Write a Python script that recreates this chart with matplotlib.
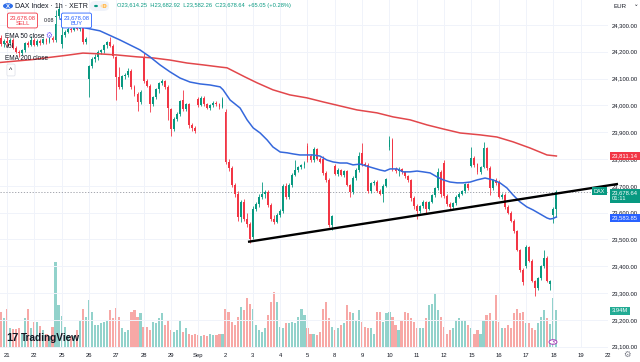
import numpy as np
import matplotlib.pyplot as plt
from matplotlib.patches import Circle, FancyBboxPatch

plt.rcParams['font.family'] = ['Liberation Sans', 'DejaVu Sans']

# DAX Index, 1h bars (XETR), last two bars of 20 Aug -> 18 Sep
open_ = [
    24250, 24230,
    24240, 24232, 24245, 24215, 24200, 24195, 24205, 24232, 24225,
    24242, 24226, 24240, 24232, 24246, 24236, 24250, 24242, 24335,
    24228, 24262, 24275, 24286, 24280, 24292, 24285, 24288, 24238,
    24100, 24145, 24172, 24180, 24198, 24205, 24225, 24236, 24222,
    24180, 24105, 24068, 24108, 24112, 24130, 24068, 24042, 24012,
    24175, 24090, 24074, 24004, 24030, 24060, 24082, 24090, 24068,
    23985, 23912, 23948, 23968, 24020, 23985, 24005, 23925, 23915,
    24022, 24002, 24028, 24004, 23990, 24000, 24010, 24004, 23994,
    23975, 23790, 23765, 23702, 23668, 23585, 23640, 23578, 23556,
    23510, 23615, 23632, 23660, 23668, 23678, 23628, 23575, 23566,
    23592, 23606, 23700, 23660, 23702, 23742, 23760, 23770, 23776,
    23850, 23812, 23796, 23838, 23800, 23800, 23746, 23722, 23552,
    23772, 23745, 23758, 23740, 23755, 23702, 23675, 23730, 23760,
    23822, 23782, 23778, 23680, 23710, 23716, 23682, 23670, 23700,
    23845, 23872, 23762, 23755, 23762, 23750, 23736, 23720, 23655,
    23625, 23605, 23625, 23640, 23615, 23640, 23665, 23690, 23752,
    23785, 23662, 23632, 23620, 23635, 23660, 23670, 23680, 23705,
    23775, 23805, 23780, 23750, 23770, 23840, 23765, 23690, 23720,
    23715, 23660, 23666, 23620, 23600, 23570, 23530, 23460, 23385,
    23400, 23470, 23420, 23345, 23320, 23355, 23400, 23432, 23335,
    23590, 23614.25,
]
high = [
    24262, 24248,
    24256, 24250, 24250, 24222, 24208, 24212, 24238, 24240, 24258,
    24250, 24246, 24248, 24252, 24252, 24256, 24258, 24355, 24372,
    24300, 24280, 24292, 24295, 24298, 24298, 24300, 24295, 24255,
    24150, 24180, 24190, 24205, 24212, 24230, 24240, 24256, 24228,
    24185, 24142, 24115, 24120, 24140, 24134, 24075, 24050, 24058,
    24196, 24098, 24080, 24035, 24066, 24086, 24098, 24095, 24075,
    23990, 23955, 23975, 24020, 24058, 24010, 24010, 23935, 23922,
    24030, 24035, 24034, 24010, 24005, 24015, 24016, 24008, 24030,
    23985, 23800, 23772, 23712, 23680, 23648, 23652, 23600, 23565,
    23625, 23640, 23668, 23715, 23685, 23684, 23635, 23590, 23600,
    23615, 23708, 23712, 23710, 23748, 23796, 23775, 23782, 23792,
    23860, 23820, 23845, 23842, 23808, 23810, 23755, 23728, 23592,
    23780, 23765, 23764, 23760, 23758, 23708, 23735, 23765, 23825,
    23860, 23790, 23785, 23715, 23722, 23720, 23688, 23705, 23730,
    23885, 23878, 23770, 23770, 23768, 23756, 23742, 23726, 23662,
    23632, 23630, 23648, 23645, 23645, 23670, 23695, 23765, 23760,
    23795, 23670, 23640, 23640, 23665, 23675, 23686, 23710, 23712,
    23845, 23812, 23786, 23775, 23862, 23846, 23772, 23725, 23728,
    23722, 23672, 23672, 23628, 23606, 23576, 23536, 23466, 23392,
    23478, 23476, 23426, 23350, 23360, 23405, 23460, 23440, 23350,
    23622, 23682.92,
]
low = [
    24222, 24218,
    24222, 24225, 24210, 24195, 24182, 24188, 24200, 24218, 24220,
    24220, 24220, 24226, 24228, 24230, 24232, 24236, 24238, 24325,
    24215, 24255, 24270, 24272, 24276, 24280, 24278, 24228, 24230,
    24030, 24138, 24160, 24170, 24190, 24196, 24215, 24218, 24178,
    24020, 24062, 24060, 24098, 24105, 24060, 24036, 23980, 24005,
    24085, 24068, 23975, 23998, 24025, 24045, 24076, 24060, 23945,
    23885, 23905, 23940, 23962, 23980, 23978, 23915, 23905, 23898,
    23995, 23998, 23998, 23985, 23984, 23995, 23998, 23988, 23990,
    23780, 23755, 23695, 23660, 23570, 23565, 23570, 23548, 23485,
    23500, 23605, 23620, 23650, 23655, 23620, 23568, 23558, 23560,
    23585, 23600, 23652, 23650, 23695, 23735, 23752, 23762, 23768,
    23790, 23790, 23790, 23795, 23785, 23742, 23715, 23545, 23535,
    23740, 23738, 23735, 23734, 23698, 23660, 23668, 23722, 23752,
    23775, 23772, 23672, 23672, 23702, 23675, 23664, 23640, 23694,
    23835, 23755, 23748, 23738, 23745, 23730, 23715, 23645, 23615,
    23575, 23598, 23618, 23595, 23608, 23634, 23658, 23684, 23660,
    23655, 23625, 23612, 23615, 23628, 23654, 23664, 23674, 23684,
    23770, 23770, 23745, 23744, 23765, 23760, 23665, 23684, 23704,
    23655, 23652, 23615, 23594, 23565, 23525, 23455, 23380, 23330,
    23395, 23415, 23340, 23290, 23312, 23348, 23395, 23340, 23312,
    23560, 23582.26,
]
close = [
    24230, 24240,
    24232, 24245, 24215, 24200, 24195, 24205, 24232, 24225, 24242,
    24226, 24240, 24232, 24246, 24236, 24250, 24242, 24335, 24360,
    24262, 24275, 24286, 24280, 24292, 24285, 24288, 24238, 24248,
    24145, 24172, 24182, 24198, 24205, 24225, 24236, 24222, 24185,
    24105, 24068, 24108, 24112, 24130, 24068, 24042, 24012, 24050,
    24090, 24074, 24004, 24030, 24060, 24082, 24090, 24068, 23990,
    23912, 23948, 23968, 24015, 23985, 24005, 23925, 23915, 23905,
    24002, 24028, 24004, 23990, 24000, 24010, 24004, 23994, 24025,
    23790, 23765, 23702, 23668, 23585, 23640, 23578, 23556, 23500,
    23615, 23632, 23660, 23668, 23678, 23628, 23575, 23566, 23592,
    23606, 23700, 23660, 23702, 23742, 23760, 23770, 23776, 23786,
    23795, 23796, 23838, 23800, 23790, 23746, 23722, 23552, 23588,
    23745, 23758, 23740, 23755, 23702, 23675, 23730, 23760, 23812,
    23782, 23778, 23680, 23710, 23716, 23682, 23670, 23700, 23725,
    23872, 23762, 23755, 23762, 23750, 23736, 23720, 23655, 23625,
    23605, 23625, 23640, 23615, 23640, 23665, 23690, 23752, 23668,
    23662, 23632, 23620, 23635, 23660, 23670, 23680, 23705, 23690,
    23805, 23776, 23750, 23770, 23840, 23765, 23690, 23720, 23710,
    23660, 23666, 23620, 23600, 23570, 23530, 23460, 23385, 23340,
    23470, 23420, 23345, 23320, 23355, 23400, 23432, 23346, 23345,
    23612, 23678.64,
]
# volume, millions
volume = [
    3.7, 3.1,
    4.0, 2.1, 2.0, 2.0, 2.1, 1.5, 3.1, 4.0, 2.1,
    2.7, 2.7, 2.3, 1.9, 1.5, 1.2, 2.2, 8.9, 4.5,
    3.3, 2.2, 1.4, 1.2, 1.2, 1.9, 2.9, 4.0, 3.2,
    5.0, 3.7, 2.4, 2.4, 2.6, 2.7, 2.9, 3.9, 3.1,
    4.1, 3.2, 2.1, 1.7, 1.9, 3.7, 3.9, 3.2, 3.6,
    2.2, 2.2, 1.9, 2.7, 2.6, 3.1, 3.6, 2.4, 2.9,
    1.9, 1.7, 1.9, 2.9, 1.7, 2.1, 1.5, 1.4, 1.5,
    1.4, 1.2, 1.4, 1.2, 1.5, 1.4, 1.4, 1.5, 1.5,
    4.0, 3.7, 2.7, 2.4, 3.2, 4.3, 3.9, 5.2, 4.6,
    4.0, 2.4, 1.9, 1.7, 2.1, 3.4, 4.8, 5.8, 4.8,
    2.2, 2.1, 2.6, 2.6, 2.7, 2.6, 3.2, 4.0, 3.4,
    2.1, 1.5, 1.5, 1.4, 1.7, 4.0, 4.8, 3.1, 2.2,
    1.9, 2.1, 2.4, 2.6, 4.5, 3.7, 3.6, 2.9, 3.9,
    2.7, 2.2, 2.1, 2.1, 1.5, 3.7, 3.7, 2.7, 3.6,
    3.7, 3.2, 2.4, 1.9, 2.9, 3.7, 3.6, 3.1, 2.7,
    2.1, 2.1, 2.1, 3.1, 4.5, 4.6, 5.7, 3.9, 3.2,
    2.2, 1.5, 1.9, 2.1, 2.9, 3.1, 2.9, 2.9, 2.4,
    2.1, 1.5, 1.9, 1.5, 2.9, 3.4, 3.6, 2.9, 5.5,
    2.7, 2.1, 2.1, 2.4, 2.1, 3.6, 4.0, 3.6, 3.7,
    2.6, 2.6, 2.1, 1.9, 2.6, 3.2, 3.9, 3.1, 2.5,
    5.2, 3.94,
]

# moving averages (bar index, value)
ema50_at = [19.5, 27.7, 32.6, 39.2, 45.8, 49.1, 52.4, 55.7, 59.0, 62.3, 65.6, 68.9,
            72.2, 73.2, 75.5, 78.8, 81.1, 83.1, 85.4, 87.7, 89.6, 92.0, 94.3, 96.2,
            98.5, 102.8, 105.1, 107.4, 109.4, 111.7, 114.0, 116.0, 118.3, 121.6,
            124.9, 126.5, 128.2, 130.5, 132.5, 134.8, 137.1, 139.1, 141.4, 143.7,
            145.7, 148.0, 150.3, 152.2, 154.6, 156.9, 159.5, 162.1, 164.4, 166.7,
            168.7, 171.0, 173.3, 175.3, 177.6, 179.9, 180.9, 181.9, 183.0]
ema50 = [24322, 24289, 24278, 24244, 24207, 24181, 24151, 24125, 24102, 24087, 24080,
         24076, 24069, 24058, 24020, 23990, 23946, 23916, 23897, 23871, 23845, 23826,
         23823, 23819, 23815, 23815, 23811, 23796, 23789, 23785, 23785, 23778, 23781,
         23770, 23759, 23755, 23763, 23763, 23752, 23752, 23755, 23752, 23748, 23733,
         23722, 23714, 23711, 23711, 23714, 23722, 23729, 23722, 23711, 23692, 23666,
         23640, 23621, 23610, 23595, 23580, 23576, 23578, 23583.85]
ema200_at = [-0.3, 10.6, 13.9, 21.8, 27.0, 32.6, 38.2, 44.8, 50.1, 55.7, 61.3, 66.6,
             72.2, 74.5, 77.8, 80.4, 84.4, 89.6, 95.2, 100.8, 106.1, 111.7, 117.3,
             123.9, 129.2, 134.8, 140.4, 145.7, 151.3, 157.8, 163.4, 168.7, 174.3,
             179.9, 183.0]
ema200 = [24160, 24171, 24176, 24187, 24195, 24192, 24188, 24181, 24177, 24169, 24158,
          24151, 24143, 24140, 24121, 24106, 24084, 24058, 24039, 24028, 24013, 23998,
          23983, 23972, 23957, 23946, 23927, 23912, 23897, 23890, 23882, 23864, 23841,
          23815, 23811.14]

# support line drawn on the chart
trend_at = [81.4, 203.3]
trend_val = [23491, 23707]

day_labels = ['21', '22', '25', '26', '27', '28', '29', 'Sep', '2', '3', '4', '5',
              '8', '9', '10', '11', '12', '15', '16', '17', '18', '19', '22']
price_ticks = list(range(23100, 24301, 100))

UP, DOWN = '#089981', '#f23645'
VUP, VDOWN = '#92d2cb', '#f7a8a6'
TXT = '#131722'
FS = 4.2

W, H = 640, 362
fig = plt.figure(figsize=(6.4, 3.62), dpi=100)
fig.patch.set_facecolor('white')


def fx(x):
    return x / W


def fy(y):
    return 1 - y / H


rect = [0, 14 / H, 608 / W, 348 / H]
axv = fig.add_axes(rect)
ax = fig.add_axes(rect)
ax.patch.set_visible(False)

n = len(close)
idx = np.arange(n)
o = np.array(open_)
c = np.array(close)
up = c >= o

# volume
axv.bar(idx, volume, width=0.72, color=np.where(up, VUP, VDOWN), linewidth=0)
axv.set_ylim(0, 36.1)
axv.set_xlim(-0.3, 200.0)
axv.axis('off')

# grid
day_start = [2 + 9 * k for k in range(len(day_labels))]
for d in day_start:
    ax.axvline(d, color='#f0f3fa', lw=0.7, zorder=0)
for p in price_ticks:
    ax.axhline(p, color='#f0f3fa', lw=0.7, zorder=0)

# current price line
ax.axhline(close[-1], color='#9598a1', lw=0.6, ls=(0, (1.5, 2)), zorder=1)

# candles
cols = np.where(up, UP, DOWN)
ax.vlines(idx, low, high, colors=cols, lw=0.6, zorder=3)
body = np.maximum(np.abs(c - o), 1.5)
ax.bar(idx, body, bottom=np.minimum(o, c), width=0.62, color=cols, linewidth=0, zorder=4)

# EMAs
ax.plot(ema200_at, ema200, color='#e2474b', lw=1.1, zorder=5)
ax.plot(ema50_at, ema50, color='#3568dc', lw=1.1, zorder=5)

# trend line
ax.plot(trend_at, trend_val, color='black', lw=1.7, zorder=6, clip_on=False,
        solid_capstyle='butt')

ax.set_xlim(-0.3, 200.0)
ax.set_ylim(23095, 24393)
for s in ax.spines.values():
    s.set_visible(False)
ax.set_xticks(day_start)
ax.set_xticklabels(day_labels, fontsize=FS, color=TXT)
ax.yaxis.tick_right()
ax.set_yticks(price_ticks)
ax.set_yticklabels([f'{p:,.2f}' for p in price_ticks], fontsize=FS, color=TXT)
ax.tick_params(axis='both', length=0)
ax.tick_params(axis='x', pad=3.5)
ax.tick_params(axis='y', pad=3)


# price scale tags
def tag(x, y, s, fc, fs=FS, ha='left'):
    fig.text(fx(x), fy(y), s, fontsize=fs, color='white', ha=ha, va='center',
             linespacing=1.15,
             bbox=dict(boxstyle='square,pad=0.3', fc=fc, ec='none'))


tag(612, 156, '23,811.14', DOWN)
tag(612, 196, '23,678.64\n01:11', UP)
tag(594, 191, 'DAX', UP, fs=4)
tag(612, 218, '23,583.85', '#2962ff')
tag(612, 311, '3.94M', '#22ab94')
fig.text(fx(614), fy(6), 'EUR', fontsize=4.4, color=TXT, va='center')
fig.text(fx(634), fy(5), '\u2304', fontsize=4, color=TXT, va='center')
fig.text(fx(627), fy(355), '\u2699', fontsize=6, color='#787b86', ha='center', va='center')

# header
fig.patches.append(Circle((fx(8), fy(6)), 5 / W, transform=fig.transFigure,
                          fc='#2f6ee8', ec='none'))
fig.text(fx(8), fy(6), 'X', fontsize=4.3, color='white', ha='center', va='center',
         weight='bold')
fig.text(fx(15), fy(6), 'DAX Index \u00b7 1h \u00b7 XETR', fontsize=5.0, color=TXT,
         va='center')
fig.patches.append(FancyBboxPatch((fx(90), fy(11)), 19 / W, 10 / H,
                                  boxstyle='round,pad=0,rounding_size=0.01',
                                  transform=fig.transFigure, fc='#f0f3fa', ec='none'))
fig.patches.append(Circle((fx(96), fy(6)), 2 / W, transform=fig.transFigure,
                          fc=UP, ec='none'))
fig.patches.append(Circle((fx(104), fy(6)), 3.5 / W, transform=fig.transFigure,
                          fc='#ffe0b2', ec='none'))
fig.text(fx(104), fy(6), 'D', fontsize=3.4, color='#ff9800', ha='center', va='center')
fig.text(fx(117), fy(6), 'O23,614.25  H23,682.92  L23,582.26  C23,678.64  +65.05 (+0.28%)',
         fontsize=4.15, color=UP, va='center')

# sell / buy
fig.text(fx(22.5), fy(20.5), '23,678.08\nSELL', fontsize=4.2, color=DOWN, ha='center',
         va='center', linespacing=1.2,
         bbox=dict(boxstyle='round,pad=0.35,rounding_size=0.3', fc='white', ec=DOWN, lw=0.6))
fig.text(fx(76.5), fy(20.5), '23,678.08\nBUY', fontsize=4.2, color='#2962ff', ha='center',
         va='center', linespacing=1.2,
         bbox=dict(boxstyle='round,pad=0.35,rounding_size=0.3', fc='white', ec='#2962ff', lw=0.6))
fig.text(fx(49.5), fy(20.5), '0.08', fontsize=3.8, color=TXT, ha='center', va='center',
         bbox=dict(boxstyle='square,pad=0.15', fc='white', ec='none'))

# legend
fig.text(fx(5), fy(36), 'EMA 50 close', fontsize=4.7, color=TXT, va='center')
fig.text(fx(45), fy(36), '\u2699', fontsize=5.5, color='#7b61ff', va='center')
fig.text(fx(5), fy(47), 'Vol', fontsize=4.7, color=TXT, va='center')
fig.text(fx(5), fy(58), 'EMA 200 close', fontsize=4.7, color=TXT, va='center')
fig.text(fx(11), fy(70), '^', fontsize=5, color=TXT, ha='center', va='center',
         bbox=dict(boxstyle='round,pad=0.35,rounding_size=0.2', fc='white', ec='#e0e3eb', lw=0.6))

# watermark
fig.text(fx(6), fy(338), '17', fontsize=8, color=TXT, va='center', weight='bold')
fig.text(fx(21), fy(338), 'TradingView', fontsize=7.2, color=TXT, va='center', weight='bold')

# lightning marker
fig.patches.append(Circle((fx(553), fy(342)), 4 / W, transform=fig.transFigure,
                          fc='white', ec='#9c27b0', lw=0.6))
fig.text(fx(553), fy(342), '\u26a1', fontsize=4, color='#9c27b0', ha='center', va='center')

fig.savefig('out.png', dpi=100)
